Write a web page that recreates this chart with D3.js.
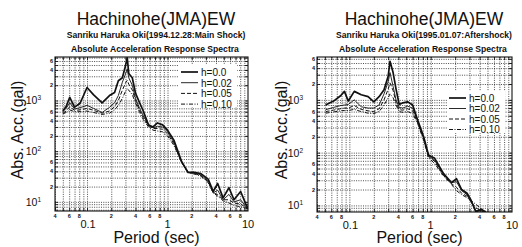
<!DOCTYPE html>
<html><head><meta charset="utf-8">
<script src="https://cdn.jsdelivr.net/npm/d3@7"></script>
<style>body{margin:0;background:#fff} text{font-family:"Liberation Sans",Arial,sans-serif;fill:#111}</style>
</head><body><svg id="c" width="522" height="247"></svg>
<script>
// ---------- text ----------
const titles = ["Hachinohe(JMA)EW", "Hachinohe(JMA)EW"];
const subtitles = ["Sanriku Haruka Oki(1994.12.28:Main Shock)", "Sanriku Haruka Oki(1995.01.07:Aftershock)"];
const subtitle2 = "Absolute Acceleration Response Spectra";
const xTitle = "Period (sec)";
const yTitle = "Abs. Acc.(gal)";
const legendLabels = ["h=0.0", "h=0.02", "h=0.05", "h=0.10"];

// ---------- ticks ----------
const xMinorTicks = [0.04, 0.06, 0.08, 0.2, 0.4, 0.6, 0.8, 2, 4, 6, 8];
const xMinorTickLabels = ["4", "6", "8", "2", "4", "6", "8", "2", "4", "6", "8"];
const xMajorTicks = [0.1, 1, 10];
const xMajorTickLabels = ["0.1", "1", "10"];
const yMinorTicks = [20, 40, 60, 200, 400, 600, 2000, 4000, 6000];
const yMinorTickLabels = ["2", "4", "6", "2", "4", "6", "2", "4", "6"];
const yMajorTicks = [10, 100, 1000];
const yMajorExp = ["1", "2", "3"];

// ---------- data : Main Shock (left) ----------
const periodsL = [0.05, 0.055, 0.061, 0.07, 0.082, 0.1, 0.12, 0.154, 0.19, 0.22, 0.245, 0.275, 0.3, 0.316, 0.33, 0.365, 0.4, 0.45, 0.5, 0.58, 0.66, 0.75, 0.87, 1.0, 1.2, 1.5, 1.8, 2.2, 2.6, 3.2, 3.7, 4.2, 4.9, 5.8, 6.7, 8.1, 9.4, 10];
const mainH000 = [620, 760, 1150, 740, 880, 1800, 1300, 900, 1250, 1430, 2450, 2800, 4800, 6900, 3400, 2800, 1400, 900, 620, 330, 300, 360, 330, 260, 165, 62, 38, 38, 36, 28, 16, 23, 12, 19, 11, 16, 9, 7.5];
const mainH002 = [600, 700, 900, 680, 720, 800, 700, 580, 730, 900, 1250, 2300, 3300, 4200, 2800, 2000, 1100, 700, 500, 330, 290, 310, 300, 240, 150, 60, 38, 37, 34, 26, 15, 17, 11, 14, 10, 11, 8, 7.2];
const mainH005 = [560, 620, 750, 640, 650, 700, 640, 560, 620, 750, 1000, 1600, 2200, 2500, 2100, 1600, 1000, 640, 460, 320, 280, 280, 270, 220, 140, 60, 38, 36, 33, 25, 15, 14, 11, 11, 9.5, 9, 7.8, 7.2];
const mainH010 = [540, 580, 650, 600, 600, 620, 580, 530, 560, 650, 800, 1100, 1500, 1700, 1600, 1300, 900, 580, 420, 300, 260, 250, 240, 200, 130, 60, 38, 35, 32, 24, 15, 13, 10.5, 9.5, 8.5, 8, 7.5, 7.2];

// ---------- data : Aftershock (right) ----------
const periodsR = [0.051, 0.064, 0.078, 0.087, 0.097, 0.115, 0.14, 0.17, 0.2, 0.232, 0.267, 0.3, 0.316, 0.345, 0.375, 0.41, 0.455, 0.52, 0.6, 0.69, 0.82, 0.94, 1.12, 1.44, 1.8, 2.08, 2.4, 2.8, 3.1, 3.6, 4.2, 5.0];
const afterH000 = [800, 950, 1200, 1450, 950, 1450, 1250, 1150, 920, 1150, 1550, 2800, 5400, 3300, 1600, 820, 880, 920, 800, 420, 200, 90, 78, 40, 27, 32, 20, 17, 13, 7.5, 8.5, 7.0];
const afterH002 = [650, 720, 780, 800, 820, 1000, 740, 700, 700, 800, 1300, 2200, 3300, 1800, 1000, 720, 700, 760, 700, 400, 190, 88, 72, 38, 27, 28, 19, 16, 12, 8, 8, 6.8];
const afterH005 = [600, 640, 680, 700, 700, 780, 660, 620, 600, 680, 1000, 1600, 2100, 1500, 900, 650, 640, 680, 620, 380, 180, 85, 68, 37, 26, 22, 17, 15, 12, 9, 7.8, 6.8];
const afterH010 = [560, 590, 620, 630, 630, 660, 600, 560, 550, 600, 800, 1100, 1300, 1100, 800, 600, 580, 600, 550, 360, 170, 80, 62, 36, 25, 19, 16, 14, 12.5, 10.5, 8.5, 7.2];

const dashes = [null, null, "4,2", "4,1.5,1,1.5"];
const widths = [1.7, 0.9, 1.0, 1.0];

const svg = d3.select("#c");

function panel(p) {
  const g = svg.append("g");
  const x = d3.scaleLog().domain([0.04, 10]).range([p.x0, p.x1]);
  const y = d3.scaleLog().domain(p.yDomain).range([p.y1, p.y0]);
  const W = p.x1 - p.x0, H = p.y1 - p.y0;

  const gx = [], gy = [];
  [0.01, 0.1, 1].forEach(d => { for (let k = 1; k <= 9; k++) { const v = +(k * d).toPrecision(3); if (v >= 0.04 && v <= 10) gx.push(v); } });
  [1, 10, 100, 1000].forEach(d => { for (let k = 1; k <= 9; k++) { const v = k * d; if (v >= p.yDomain[0] && v <= p.yDomain[1]) gy.push(v); } });

  const gridX = g.append("g").attr("transform", `translate(0,${p.y1})`)
    .call(d3.axisBottom(x).tickValues(gx).tickSize(-H).tickFormat(""));
  const gridY = g.append("g").attr("transform", `translate(${p.x0},0)`)
    .call(d3.axisLeft(y).tickValues(gy).tickSize(-W).tickFormat(""));
  [gridX, gridY].forEach(s => {
    s.select(".domain").remove();
    s.selectAll("line").attr("stroke", "#222").attr("stroke-width", 0.8).attr("stroke-dasharray", "1,1.3");
  });

  const tb = g.append("g").attr("transform", `translate(0,${p.y1})`).call(d3.axisBottom(x).tickValues(gx).tickSize(-3).tickFormat(""));
  const tt = g.append("g").attr("transform", `translate(0,${p.y0})`).call(d3.axisTop(x).tickValues(gx).tickSize(-3).tickFormat(""));
  const tl = g.append("g").attr("transform", `translate(${p.x0},0)`).call(d3.axisLeft(y).tickValues(gy).tickSize(-3).tickFormat(""));
  const tr = g.append("g").attr("transform", `translate(${p.x1},0)`).call(d3.axisRight(y).tickValues(gy).tickSize(-3).tickFormat(""));
  [tb, tt, tl, tr].forEach(s => { s.select(".domain").remove(); s.selectAll("line").attr("stroke", "#111").attr("stroke-width", 0.9); });

  g.append("rect").attr("x", p.lx - 2).attr("y", p.ly - 7).attr("width", 58).attr("height", 42).attr("fill", "#fff");

  const clipId = "clip" + p.id;
  svg.append("clipPath").attr("id", clipId).append("rect").attr("x", p.x0).attr("y", p.y0).attr("width", W).attr("height", H);
  const line = d3.line().x(d => x(d[0])).y(d => y(d[1]));
  p.series.forEach((vals, i) => {
    const pts = p.periods.map((t, j) => [t, vals[j]]);
    g.append("path").attr("d", line(pts)).attr("clip-path", `url(#${clipId})`)
      .attr("fill", "none").attr("stroke", "#111").attr("stroke-width", widths[i])
      .attr("stroke-dasharray", dashes[i]).attr("stroke-linejoin", "round");
  });

  legendLabels.forEach((lab, i) => {
    const yy = p.ly + i * p.lstep;
    g.append("line").attr("x1", p.lx).attr("x2", p.lx + 17).attr("y1", yy).attr("y2", yy)
      .attr("stroke", "#111").attr("stroke-width", widths[i]).attr("stroke-dasharray", dashes[i]);
    g.append("text").attr("x", p.lx + 20).attr("y", yy + 3.8).attr("font-size", 10).text(lab);
  });

  g.append("rect").attr("x", p.x0).attr("y", p.y0).attr("width", W).attr("height", H)
    .attr("fill", "none").attr("stroke", "#111").attr("stroke-width", 1.1);

  xMinorTicks.forEach((v, i) => g.append("text").attr("x", x(v)).attr("y", p.y1 + 6.5)
    .attr("text-anchor", "middle").attr("font-size", 5.5).attr("font-weight", "bold").text(xMinorTickLabels[i]));
  xMajorTicks.forEach((v, i) => g.append("text").attr("x", x(v) + (i === 0 ? 1 : 0)).attr("y", p.y1 + 16.5)
    .attr("text-anchor", "middle").attr("font-size", 11).text(xMajorTickLabels[i]));
  yMinorTicks.forEach((v, i) => { if (v <= p.yDomain[1]) g.append("text").attr("x", p.x0 - 2).attr("y", y(v) + 2)
    .attr("text-anchor", "end").attr("font-size", 5.5).attr("font-weight", "bold").text(yMinorTickLabels[i]); });
  yMajorTicks.forEach((v, i) => {
    const t = g.append("text").attr("x", p.x0 - 14).attr("y", y(v) + 4).attr("text-anchor", "end").attr("font-size", 10.5);
    t.append("tspan").text("10");
    t.append("tspan").attr("font-size", 6.5).attr("dy", -4).text(yMajorExp[i]);
  });

  g.append("text").attr("x", p.cx).attr("y", 25).attr("text-anchor", "middle").attr("font-size", 17.5).text(p.title);
  g.append("text").attr("x", p.cx).attr("y", 38).attr("text-anchor", "middle").attr("font-size", 8.6).attr("font-weight", "bold").text(p.sub);
  g.append("text").attr("x", p.cx - 1).attr("y", 52).attr("text-anchor", "middle").attr("font-size", 8.6).attr("font-weight", "bold").text(subtitle2);
  g.append("text").attr("x", (p.x0 + p.x1) / 2 + 5).attr("y", 243).attr("text-anchor", "middle").attr("font-size", 16).text(xTitle);
  g.append("text").attr("transform", `translate(${p.ytx},130) rotate(-90)`).attr("text-anchor", "middle").attr("font-size", 16).text(yTitle);
}

panel({ id: "L", x0: 55, x1: 248, y0: 57, y1: 211, yDomain: [6.6, 7200], periods: periodsL,
  series: [mainH000, mainH002, mainH005, mainH010], lx: 181, ly: 72, lstep: 10.7,
  cx: 156, title: titles[0], sub: subtitles[0], ytx: 23 });
panel({ id: "R", x0: 317, x1: 512, y0: 57, y1: 212, yDomain: [7.5, 6500], periods: periodsR,
  series: [afterH000, afterH002, afterH005, afterH010], lx: 449, ly: 98, lstep: 10.5,
  cx: 424, title: titles[1], sub: subtitles[1], ytx: 287 });
</script></body></html>
